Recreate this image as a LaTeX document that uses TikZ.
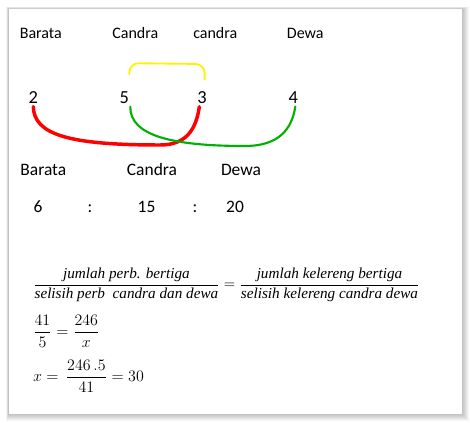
\documentclass[tikz,border=0pt]{standalone}
\usepackage{fontspec}
\setmainfont{Liberation Serif}
\newfontfamily\lblfont{Carlito}
\usetikzlibrary{positioning}

\newcommand\itw[1]{\hbox{\itshape #1}}

\begin{document}
\begin{tikzpicture}
  [x=0.75pt,y=-0.75pt,
   every node/.style={inner sep=0pt,outer sep=0pt},
   lbl/.style={anchor=base,font=\lblfont\fontsize{12}{14}\selectfont},
   big/.style={anchor=base,font=\lblfont\fontsize{13.1}{16}\selectfont},
   num/.style={anchor=base,font=\lblfont\fontsize{13.8}{16}\selectfont,outer sep=2.5pt},
   eq/.style={anchor=west,font=\fontsize{11.4}{13}\selectfont},
   link/.style={line cap=round,line width=1.6pt}]
  \useasboundingbox (0,0) rectangle (470,423);
  \fill[white] (0,0) rectangle (470,423);

  % shadow and page
  \foreach \s in {1,...,7}
    \fill[black,opacity=0.035] (8.5-\s/3,9-\s/3) rectangle (462+\s,414+\s);
  \fill[white] (8.5,9) rectangle (462,414);

  % names
  \node[lbl] (bA) at (40.8,38.3) {Barata};
  \node[lbl] (cA) at (135.3,38.3) {Candra};
  \node[lbl] (cB) at (215.3,38.3) {candra};
  \node[lbl] (dA) at (305.3,38.3) {Dewa};

  \node[num] (n2) at (33.3,103.3) {2};
  \node[num] (n5) at (124.3,103.3) {5};
  \node[num] (n3) at (202,103.3) {3};
  \node[num] (n4) at (293.3,103.3) {4};

  \draw[link,yellow,line width=1.4pt,rounded corners=7pt]
    ([xshift=3.75pt,yshift=10.5pt]n5.north) -- ++(0,-11) -- ([xshift=2pt,yshift=18pt]n3.north) -- ([xshift=2pt,yshift=6.5pt]n3.north);
  \draw[link,red,line width=2.6pt]
    (n2.south) .. controls (34,135) and (70,145) .. (160,145)
    .. controls (186,145) and (196,130) .. ([xshift=-2pt]n3.south);
  \draw[link,green!70!black]
    ([xshift=4.5pt]n5.south) .. controls (130,135) and (170,146) .. (245,146)
    .. controls (280,146) and (292,128) .. ([xshift=1.5pt]n4.south);

  % ratio
  \node[big] (bB) at (43.3,175.7) {Barata};
  \node[big] (cC) at (152,175.7) {Candra};
  \node[big] (dB) at (241,175.7) {Dewa};

  \node[big] (r6) at (38,212.3) {6};
  \node[big] (k1) at (90,212.3) {:};
  \node[big] (r15) at (146.5,212.3) {15};
  \node[big] (k2) at (195,212.3) {:};
  \node[big] (r20) at (235,212.3) {20};

  % equations
  \node[eq] (eqA) at (33,285)
    {$\displaystyle\frac{\itw{jumlah perb. bertiga}}{\itw{selisih perb\ \ candra dan dewa}}
      = \frac{\itw{jumlah kelereng bertiga}}{\itw{selisih kelereng candra dewa}}$};
  \node[eq,font=\fontsize{12.5}{14}\selectfont] (eqB) at (33,331)
    {$\displaystyle\frac{41}{5} = \frac{246}{x}$};
  \node[eq,font=\fontsize{12.5}{14}\selectfont] (eqC) at (33,376)
    {$\displaystyle x = \,\frac{246\,.5}{41} = 30$};
\end{tikzpicture}
\end{document}
